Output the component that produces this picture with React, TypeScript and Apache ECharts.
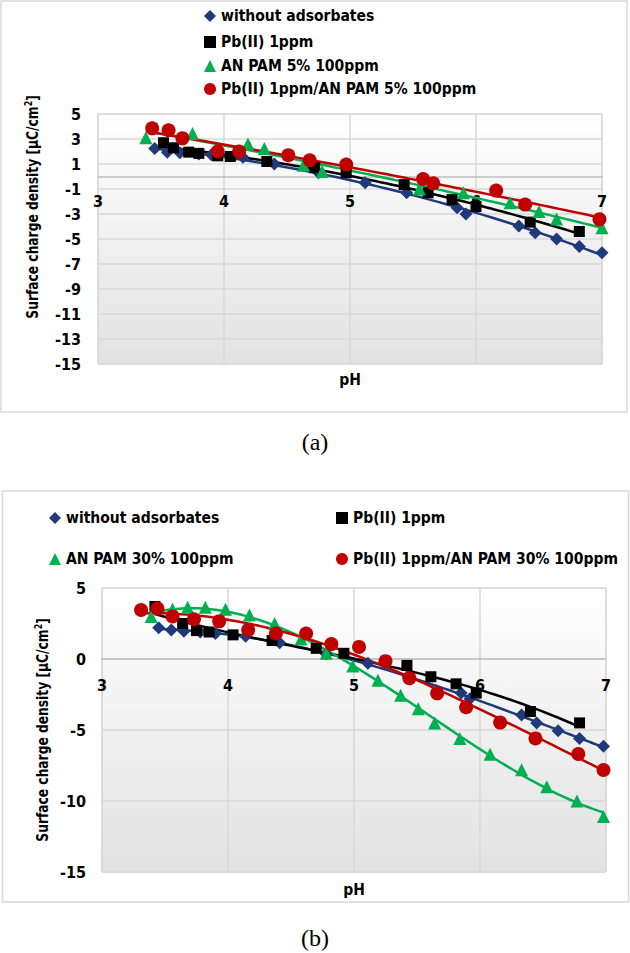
import React, { useEffect, useRef } from 'react';
import * as echarts from 'echarts';

const FONT = "'DejaVu Sans Condensed', 'DejaVu Sans', sans-serif";
const SERIF = "'Liberation Serif', 'DejaVu Serif', serif";

const NAMES_A = ['without adsorbates', 'Pb(II) 1ppm', 'AN PAM 5% 100ppm', 'Pb(II) 1ppm/AN PAM 5% 100ppm'];
const NAMES_B = ['without adsorbates', 'Pb(II) 1ppm', 'AN PAM 30% 100ppm', 'Pb(II) 1ppm/AN PAM 30% 100ppm'];
const COLORS = ['#1F3A7A', '#000000', '#00B050', '#C00000'];
const SYMBOLS = ['diamond', 'rect', 'triangle', 'circle'];
const SYMBOL_SIZES = [13, 11, 13, 14];

const X_TICKS = { min: 3, max: 7, interval: 1 };
const Y_TICKS_A = { min: -15, max: 5, interval: 2 };
const Y_TICKS_B = { min: -15, max: 5, interval: 5 };

// chart (a)
const A_WITHOUT: [number, number][] = [
  [3.45, 2.25], [3.55, 1.95], [3.65, 1.9], [3.8, 1.8], [3.9, 1.75], [4.15, 1.55], [4.4, 1.0],
  [4.75, 0.3], [5.12, -0.5], [5.45, -1.3], [5.85, -2.5], [5.92, -3.0], [6.34, -3.96],
  [6.47, -4.5], [6.64, -5.0], [6.82, -5.6], [7.0, -6.1],
];
const A_PB: [number, number][] = [
  [3.52, 2.7], [3.6, 2.3], [3.72, 1.95], [3.8, 1.85], [3.95, 1.65], [4.05, 1.6], [4.34, 1.2],
  [4.72, 0.7], [4.97, 0.3], [5.43, -0.65], [5.62, -1.3], [5.81, -1.85], [6.0, -2.4],
  [6.43, -3.65], [6.82, -4.4],
];
const A_PAM: [number, number][] = [
  [3.38, 3.1], [3.75, 3.45], [4.19, 2.6], [4.32, 2.25], [4.63, 0.9], [4.78, 0.4],
  [5.55, -1.0], [5.9, -1.3], [6.27, -2.1], [6.5, -2.8], [6.64, -3.4], [7.0, -4.1],
];
const A_PB_PAM: [number, number][] = [
  [3.43, 3.85], [3.56, 3.7], [3.67, 3.05], [3.95, 2.0], [4.12, 2.0], [4.51, 1.7], [4.68, 1.3],
  [4.97, 0.95], [5.58, -0.2], [5.66, -0.55], [6.16, -1.13], [6.39, -2.25], [6.98, -3.43],
];

// chart (b)
const B_WITHOUT: [number, number][] = [
  [3.45, 2.2], [3.55, 2.05], [3.65, 1.95], [3.78, 1.9], [3.9, 1.8], [4.14, 1.6], [4.41, 1.15],
  [4.78, 0.35], [5.11, -0.3], [5.43, -1.25], [5.85, -2.4], [5.92, -2.8], [6.33, -3.95],
  [6.45, -4.5], [6.62, -5.05], [6.79, -5.6], [6.98, -6.15],
];
const B_PB: [number, number][] = [
  [3.42, 3.7], [3.64, 2.5], [3.75, 2.0], [3.85, 1.9], [4.04, 1.7], [4.35, 1.3], [4.7, 0.75],
  [4.92, 0.4], [5.42, -0.45], [5.61, -1.25], [5.81, -1.75], [5.97, -2.4], [6.4, -3.7], [6.79, -4.5],
];
const B_PAM: [number, number][] = [
  [3.39, 3.0], [3.56, 3.5], [3.68, 3.65], [3.82, 3.65], [3.98, 3.5], [4.17, 3.1], [4.37, 2.5],
  [4.58, 1.4], [4.78, 0.4], [4.99, -0.5], [5.19, -1.5], [5.37, -2.55], [5.51, -3.5],
  [5.64, -4.5], [5.84, -5.6], [6.08, -6.7], [6.33, -7.8], [6.53, -9.0], [6.77, -10.0], [6.98, -11.1],
];
const B_PB_PAM: [number, number][] = [
  [3.31, 3.45], [3.44, 3.55], [3.56, 3.0], [3.73, 2.8], [3.93, 2.65], [4.16, 2.05], [4.38, 1.8],
  [4.62, 1.8], [4.82, 1.05], [5.04, 0.85], [5.25, -0.15], [5.44, -1.35], [5.66, -2.42],
  [5.89, -3.4], [6.16, -4.48], [6.44, -5.59], [6.78, -6.69], [6.98, -7.82],
];

const DATA_A = [A_WITHOUT, A_PB, A_PAM, A_PB_PAM];
const DATA_B = [B_WITHOUT, B_PB, B_PAM, B_PB_PAM];
const TREND_ORDER_A = 2;
const TREND_ORDER_B = 3;

// least-squares polynomial trendline (like a spreadsheet trendline) computed from the points
function polyfit(pts: [number, number][], deg: number): number[] {
  const n = deg + 1;
  const A: number[][] = Array.from({ length: n }, () => new Array(n + 1).fill(0));
  for (const [x0, y] of pts) {
    const x = x0 - 5;
    for (let i = 0; i < n; i++) {
      for (let j = 0; j < n; j++) A[i][j] += Math.pow(x, i + j);
      A[i][n] += y * Math.pow(x, i);
    }
  }
  for (let c = 0; c < n; c++) {
    let p = c;
    for (let r = c + 1; r < n; r++) if (Math.abs(A[r][c]) > Math.abs(A[p][c])) p = r;
    [A[c], A[p]] = [A[p], A[c]];
    for (let r = 0; r < n; r++) {
      if (r === c) continue;
      const f = A[r][c] / A[c][c];
      for (let k = c; k <= n; k++) A[r][k] -= f * A[c][k];
    }
  }
  return A.map((row, i) => row[n] / row[i]);
}
function trend(pts: [number, number][], deg: number): [number, number][] {
  const coef = polyfit(pts, deg);
  const xs = pts.map((p) => p[0]);
  const lo = Math.min(...xs), hi = Math.max(...xs);
  const out: [number, number][] = [];
  const steps = 80;
  for (let i = 0; i <= steps; i++) {
    const x = lo + ((hi - lo) * i) / steps;
    let y = 0;
    coef.forEach((c, k) => { y += c * Math.pow(x - 5, k); });
    out.push([x, y]);
  }
  return out;
}

const axisLabelStyle = { fontSize: 16, fontWeight: 'bold' as const, color: '#000', fontFamily: FONT };
const gridLine = { lineStyle: { color: '#d9d9d9', width: 1.5 } };

function makeSeries(data: [number, number][][], names: string[], idx: number, deg: number) {
  const out: any[] = [];
  data.forEach((pts, i) => {
    out.push({
      type: 'line', name: names[i], xAxisIndex: idx, yAxisIndex: idx,
      data: trend(pts, deg), showSymbol: false, symbol: 'none',
      lineStyle: { color: COLORS[i], width: 2.5 }, itemStyle: { color: COLORS[i] }, z: 3,
    });
  });
  data.forEach((pts, i) => {
    out.push({
      type: 'scatter', name: names[i], xAxisIndex: idx, yAxisIndex: idx, data: pts,
      symbol: SYMBOLS[i], symbolSize: SYMBOL_SIZES[i],
      itemStyle: { color: COLORS[i], opacity: 1 }, z: 4,
    });
  });
  return out;
}

function legendItem(name: string, i: number, left: number, top: number) {
  return {
    data: [{ name, icon: SYMBOLS[i], itemStyle: { color: COLORS[i] } }],
    left, top, itemWidth: 12, itemHeight: 12, selectedMode: false, padding: 0,
    textStyle: { fontSize: 15.5, fontWeight: 'bold', color: '#000', fontFamily: FONT },
  };
}

const bg = () => new echarts.graphic.LinearGradient(0, 0, 0, 1, [
  { offset: 0, color: '#ffffff' }, { offset: 1, color: '#e2e2e2' },
]);

function yTitle(x: number, y: number) {
  return {
    type: 'text', x, y, rotation: Math.PI / 2, scaleX: 0.88,
    style: {
      text: 'Surface charge density [µC/cm{sup|2}]',
      align: 'center', verticalAlign: 'middle',
      fontSize: 15.5, fontWeight: 'bold', fontFamily: FONT, fill: '#000',
      rich: { sup: { fontSize: 10, fontWeight: 'bold', fontFamily: FONT, fill: '#000', padding: [0, 0, 7, 0] } },
    },
  };
}
function plainText(text: string, x: number, y: number, font: string, size: number, weight: string) {
  return {
    type: 'text', x, y,
    style: { text, align: 'center', verticalAlign: 'middle', fontSize: size, fontWeight: weight, fontFamily: font, fill: '#000' },
  };
}

export default function App() {
  const ref = useRef<HTMLDivElement>(null);
  useEffect(() => {
    document.body.style.margin = '0';
    if (!ref.current) return;
    const chart = echarts.init(ref.current, undefined, { renderer: 'svg' });
    const gridA = { left: 98, top: 114, width: 504, height: 250 };
    const gridB = { left: 102, top: 588, width: 504, height: 284 };
    // x axis sits at y = 0, inside the plot: offset it up from the grid bottom
    const zeroOffsetA = -(gridA.height * (0 - Y_TICKS_A.min)) / (Y_TICKS_A.max - Y_TICKS_A.min);
    const zeroOffsetB = -(gridB.height * (0 - Y_TICKS_B.min)) / (Y_TICKS_B.max - Y_TICKS_B.min);
    const option: any = {
      animation: false,
      backgroundColor: '#ffffff',
      grid: [
        { ...gridA, show: true, backgroundColor: bg(), borderColor: '#d9d9d9', borderWidth: 1 },
        { ...gridB, show: true, backgroundColor: bg(), borderColor: '#d9d9d9', borderWidth: 1 },
      ],
      xAxis: [0, 1].map((g) => ({
        gridIndex: g, type: 'value', ...X_TICKS,
        offset: g === 0 ? zeroOffsetA : zeroOffsetB,
        axisLine: { onZero: false, lineStyle: { color: '#bfbfbf', width: 1.5 } },
        axisTick: { show: false },
        axisLabel: { ...axisLabelStyle, margin: g === 0 ? 17 : 18 },
        splitLine: gridLine,
      })),
      yAxis: [
        { gridIndex: 0, type: 'value', ...Y_TICKS_A, axisLine: { show: false }, axisTick: { show: false },
          axisLabel: { ...axisLabelStyle, margin: 17 }, splitLine: gridLine },
        { gridIndex: 1, type: 'value', ...Y_TICKS_B, axisLine: { show: false }, axisTick: { show: false },
          axisLabel: { ...axisLabelStyle, margin: 16 }, splitLine: gridLine },
      ],
      legend: [
        legendItem(NAMES_A[0], 0, 204, 8),
        legendItem(NAMES_A[1], 1, 204, 34),
        legendItem(NAMES_A[2], 2, 204, 58),
        legendItem(NAMES_A[3], 3, 204, 81),
        legendItem(NAMES_B[0], 0, 49, 510),
        legendItem(NAMES_B[1], 1, 336, 510),
        legendItem(NAMES_B[2], 2, 49, 551),
        legendItem(NAMES_B[3], 3, 336, 551),
      ],
      graphic: [
        { type: 'rect', shape: { x: 1, y: 1, width: 626, height: 411 }, style: { fill: 'none', stroke: '#d9d9d9', lineWidth: 1.5 }, z: -1 },
        { type: 'rect', shape: { x: 2.5, y: 491, width: 626, height: 411 }, style: { fill: 'none', stroke: '#d9d9d9', lineWidth: 1.5 }, z: -1 },
        yTitle(32, 207),
        yTitle(42, 730),
        plainText('pH', 350, 380, FONT, 15.5, 'bold'),
        plainText('pH', 354, 890, FONT, 15.5, 'bold'),
        plainText('(a)', 315, 442, SERIF, 24, 'normal'),
        plainText('(b)', 315, 938, SERIF, 24, 'normal'),
      ],
      series: [
        ...makeSeries(DATA_A, NAMES_A, 0, TREND_ORDER_A),
        ...makeSeries(DATA_B, NAMES_B, 1, TREND_ORDER_B),
      ],
    };
    chart.setOption(option);
    return () => chart.dispose();
  }, []);
  return <div ref={ref} style={{ width: 630, height: 953 }} />;
}
